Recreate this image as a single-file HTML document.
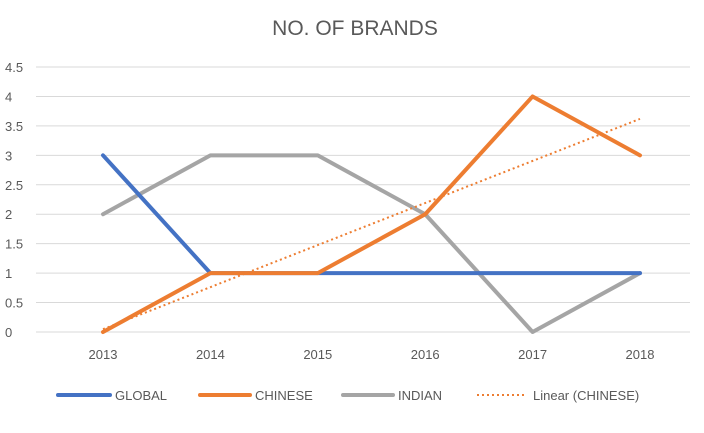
<!DOCTYPE html>
<html><head><meta charset="utf-8"><style>
body{margin:0;background:#fff;width:704px;height:428px;overflow:hidden;font-family:"Liberation Sans",sans-serif}
svg text{font-family:"Liberation Sans",sans-serif;fill:#595959}
</style></head><body>
<svg id="c" width="704" height="428">
<text x="355" y="35" text-anchor="middle" font-size="21">NO. OF BRANDS</text>
<g id="grid"></g><g id="series"></g>
<g font-size="13">
<line x1="58" y1="395" x2="110" y2="395" stroke="#4472C4" stroke-width="4" stroke-linecap="round"/>
<text x="115" y="400">GLOBAL</text>
<line x1="200" y1="395" x2="250" y2="395" stroke="#ED7D31" stroke-width="4" stroke-linecap="round"/>
<text x="255" y="400">CHINESE</text>
<line x1="343" y1="395" x2="393" y2="395" stroke="#A5A5A5" stroke-width="4" stroke-linecap="round"/>
<text x="398" y="400">INDIAN</text>
<line x1="477" y1="395" x2="527" y2="395" stroke="#ED7D31" stroke-width="2" stroke-dasharray="2,3"/>
<text x="533" y="400">Linear (CHINESE)</text>
</g>
</svg>
<script>
const categories=["2013","2014","2015","2016","2017","2018"];
const globalVals=[3,1,1,1,1,1];
const chineseVals=[0,1,1,2,4,3];
const indianVals=[2,3,3,2,0,1];
const yTicks=[0,0.5,1,1.5,2,2.5,3,3.5,4,4.5];
const NS="http://www.w3.org/2000/svg";
const x0=103,xStep=107.4,y0=332,yMax=4.5,yTop=67;
const X=i=>x0+i*xStep, Y=v=>y0-(v/yMax)*(y0-yTop);
const grid=document.getElementById('grid'),ser=document.getElementById('series');
function mk(t,a,p){const e=document.createElementNS(NS,t);for(const k in a)e.setAttribute(k,a[k]);p.appendChild(e);return e;}
yTicks.forEach(v=>{
 const l=mk('line',{x1:36,x2:690,y1:Y(v),y2:Y(v),stroke:'#D9D9D9','stroke-width':1},grid);
 
 
 const t=mk('text',{x:5,y:Y(v)+5,'font-size':13},grid);t.textContent=String(v);
 
 
});
categories.forEach((c,i)=>{
 const t=mk('text',{x:X(i),y:359,'font-size':13,'text-anchor':'middle'},grid);t.textContent=c;
 
 
});
function line(vals,color,name){
 const p=mk('polyline',{points:vals.map((v,i)=>X(i)+','+Y(v)).join(' '),fill:'none',stroke:color,'stroke-width':4,'stroke-linejoin':'round','stroke-linecap':'round'},ser);
 
 
}
line(indianVals,'#A5A5A5','series-indian');
line(globalVals,'#4472C4','series-global');
line(chineseVals,'#ED7D31','series-chinese');
const n=chineseVals.length,mx=(n-1)/2,my=chineseVals.reduce((a,b)=>a+b,0)/n;
let sxy=0,sxx=0;chineseVals.forEach((v,i)=>{sxy+=(i-mx)*(v-my);sxx+=(i-mx)*(i-mx);});
const slope=sxy/sxx,icpt=my-slope*mx;
const tr=mk('line',{x1:X(0),y1:Y(icpt),x2:X(n-1),y2:Y(icpt+slope*(n-1)),stroke:'#ED7D31','stroke-width':2,'stroke-dasharray':'2,3'},ser);


</script>
</body></html>
